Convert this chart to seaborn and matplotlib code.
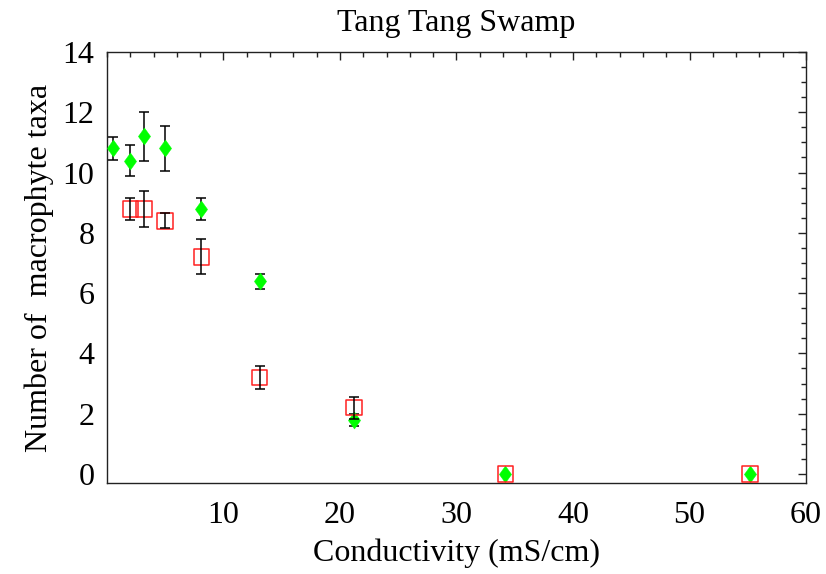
import matplotlib
matplotlib.use("Agg")
import matplotlib.pyplot as plt
from matplotlib.ticker import MultipleLocator
import numpy as np
import pandas as pd
import seaborn as sns

# Mean number of macrophyte taxa along the conductivity gradient
cond_a = [0.5, 2.0, 3.2, 5.0, 8.1, 13.1, 21.2, 34.2, 55.2]
taxa_a = [10.8, 10.4, 11.2, 10.8, 8.8, 6.4, 1.8, 0.0, 0.0]
err_a = [0.37, 0.5, 0.8, 0.75, 0.37, 0.25, 0.2, 0.0, 0.0]

cond_b = [2.0, 3.2, 5.0, 8.1, 13.1, 21.2, 34.2, 55.2]
taxa_b = [8.8, 8.8, 8.4, 7.2, 3.2, 2.2, 0.0, 0.0]
err_b = [0.37, 0.6, 0.25, 0.58, 0.37, 0.37, 0.0, 0.0]

df_a = pd.DataFrame({"cond": cond_a, "taxa": taxa_a, "err": err_a})
df_b = pd.DataFrame({"cond": cond_b, "taxa": taxa_b, "err": err_b})

sns.set_style("white")
plt.rcParams["font.family"] = ["Liberation Serif", "DejaVu Serif"]
plt.rcParams["text.color"] = "black"
plt.rcParams["axes.labelcolor"] = "black"
plt.rcParams["xtick.color"] = "black"
plt.rcParams["ytick.color"] = "black"

fig = plt.figure(figsize=(8.26, 5.74), dpi=100)
ax = fig.add_axes([0.1295, 0.1585, 0.8463, 0.7509])

err_style = dict(fmt="none", ecolor="black", elinewidth=1.1, capsize=3.5, capthick=1.1)

# diamond a bit narrower than it is tall
diamond = [(0, 1), (0.72, 0), (0, -1), (-0.72, 0), (0, 1)]


def bars(df, z):
    d = df[df["err"] > 0]
    ax.errorbar(d["cond"], d["taxa"], yerr=d["err"], zorder=z, **err_style)


# green series: bars under the diamonds
bars(df_a, 2)
sns.scatterplot(data=df_a, x="cond", y="taxa", ax=ax, marker=diamond, s=150,
                color="#00ff00", edgecolor="#00ff00", linewidth=0.3, zorder=3)

# red series: open squares with their bars on top
sns.scatterplot(data=df_b, x="cond", y="taxa", ax=ax, marker="s", s=125,
                facecolor="none", edgecolor="#ff2020", linewidth=1.1, zorder=4)
bars(df_b, 5)

ax.set_xlim(0, 60)
ax.set_ylim(-0.3, 14)
ax.xaxis.set_major_locator(MultipleLocator(10))
ax.xaxis.set_minor_locator(MultipleLocator(2))
ax.yaxis.set_major_locator(MultipleLocator(2))
ax.yaxis.set_minor_locator(MultipleLocator(0.5))
ax.set_xticks([10, 20, 30, 40, 50, 60])

ax.tick_params(which="both", direction="in", top=True, right=True,
               color="#222222", width=1.0)
ax.tick_params(which="major", length=6, labelsize=23)
ax.tick_params(axis="x", which="major", pad=13)
ax.tick_params(axis="y", which="major", pad=9)
ax.tick_params(which="minor", length=3.5)

for sp in ax.spines.values():
    sp.set_color("#222222")
    sp.set_linewidth(1.0)

ax.set_xlabel("Conductivity (mS/cm)", fontsize=23, labelpad=6)
ax.set_ylabel("Number of  macrophyte taxa", fontsize=23, labelpad=6)
ax.set_title("Tang Tang Swamp", fontsize=23, pad=15)

fig.savefig("out.png", dpi=100)
